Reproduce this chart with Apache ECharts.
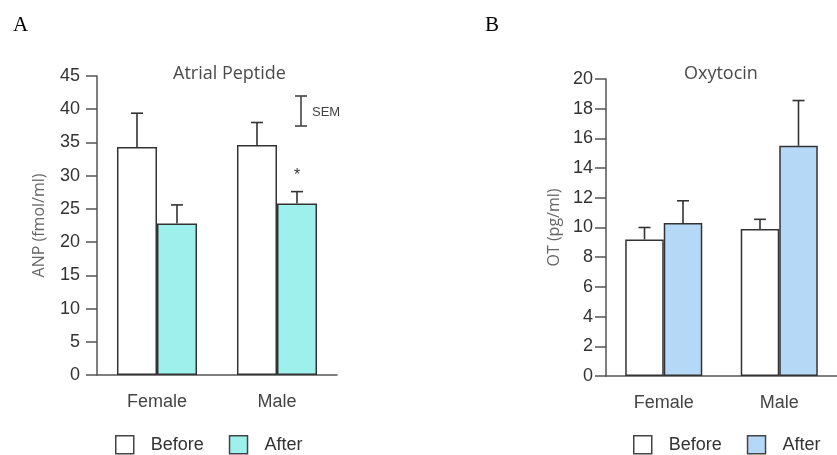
<!DOCTYPE html>
<html>
<head>
<meta charset="utf-8">
<script src="https://cdn.jsdelivr.net/npm/echarts@6/dist/echarts.min.js"></script>
<style>
  html, body { margin: 0; padding: 0; background: #fff; }
  #chart { width: 837px; height: 455px; }
</style>
</head>
<body>
<div id="chart"></div>
<script>
// categories and tick labels
var categories = ['Female', 'Male'];
var anpTicks = [0, 5, 10, 15, 20, 25, 30, 35, 40, 45];
var otTicks = [0, 2, 4, 6, 8, 10, 12, 14, 16, 18, 20];

// A: atrial peptide (fmol/ml), mean and SEM
var anpBefore = [34.3, 34.6];
var anpAfter = [22.8, 25.8];
var anpBeforeSem = [5.1, 3.4];
var anpAfterSem = [2.8, 1.8];

// B: oxytocin (pg/ml), mean and SEM
var otBefore = [9.2, 9.9];
var otAfter = [10.3, 15.5];
var otBeforeSem = [0.8, 0.65];
var otAfterSem = [1.5, 3.05];

var AFTER_A = '#9ef0ec';
var AFTER_B = '#b6d8f7';
var EDGE = '#333';
var AXIS = '#555';
var FONT = 'Liberation Sans';

/**
 * error bar (upper arm only) on top of a bar, side -1 = left bar, 1 = right bar
 */
function errSeries(means, sems, side, axisIdx) {
	var data = means.map(function (m, i) { return [i, m, sems[i]]; });
	return {
		type: 'custom',
		xAxisIndex: axisIdx,
		yAxisIndex: axisIdx,
		z: 5,
		silent: true,
		data: data,
		renderItem: function (params, api) {
			var band = api.size([1, 0])[0];
			var dx = side * band / 6;
			var p0 = api.coord([api.value(0), api.value(1)]);
			var p1 = api.coord([api.value(0), api.value(1) + api.value(2)]);
			var x = p0[0] + dx;
			var st = { stroke: EDGE, lineWidth: 1.6 };
			return {
				type: 'group',
				children: [
					{ type: 'line', shape: { x1: x, y1: p0[1], x2: x, y2: p1[1] }, style: st },
					{ type: 'line', shape: { x1: x - 6, y1: p1[1], x2: x + 6, y2: p1[1] }, style: st }
				]
			};
		}
	};
}

function xAxisConf(gridIdx) {
	return {
		type: 'category',
		gridIndex: gridIdx,
		data: categories,
		axisLine: { lineStyle: { color: AXIS, width: 1.5 } },
		axisTick: { length: 10, lineStyle: { color: AXIS, width: 1.5 } },
		axisLabel: { margin: 18, fontFamily: FONT, fontSize: 18, color: '#444' }
	};
}

function yAxisConf(gridIdx, ticks, name, gap, margin) {
	return {
		type: 'value',
		gridIndex: gridIdx,
		min: ticks[0],
		max: ticks[ticks.length - 1],
		interval: ticks[1] - ticks[0],
		name: name,
		nameLocation: 'middle',
		nameGap: gap,
		nameTextStyle: { fontFamily: 'Open Sans', fontSize: 16, color: '#666' },
		axisLine: { show: true, lineStyle: { color: AXIS, width: 1.5 } },
		axisTick: { show: true, length: 11, lineStyle: { color: AXIS, width: 1.5 } },
		axisLabel: { margin: margin, fontFamily: FONT, fontSize: 18, color: '#333' },
		splitLine: { show: false }
	};
}

function bar(name, data, color, axisIdx) {
	return {
		type: 'bar',
		name: name,
		data: data,
		xAxisIndex: axisIdx,
		yAxisIndex: axisIdx,
		barGap: '0%',
		barCategoryGap: '33.3%',
		itemStyle: { color: color, borderColor: EDGE, borderWidth: 1.5 }
	};
}

// male "after" bar gets the significance star
var anpAfterData = anpAfter.map(function (v, i) {
	if (i === 1) {
		return { value: v, label: { show: true, position: 'top', distance: 20, formatter: '*', fontSize: 16, color: '#333', fontFamily: FONT } };
	}
	return v;
});

var legendBase = {
	orient: 'horizontal',
	top: 430,
	itemWidth: 18,
	itemHeight: 18,
	itemGap: 25,
	icon: 'rect',
	selectedMode: false,
	textStyle: { fontFamily: FONT, fontSize: 18, color: '#333', padding: [0, 0, 0, 12] }
};

var titleFont = { fontFamily: 'Open Sans', fontSize: 18, fontWeight: 'normal', color: '#4a4a4a' };
var letterFont = { fontFamily: 'Liberation Serif', fontSize: 21, fontWeight: 'normal', color: '#000' };

var myChart = echarts.init(document.getElementById('chart'), null, { renderer: 'canvas' });
var options = {
	backgroundColor: '#fff',
	animation: false,
	title: [
		{ text: 'A', left: 8, top: 10, textStyle: letterFont },
		{ text: 'B', left: 480, top: 10, textStyle: letterFont },
		{ text: 'Atrial Peptide', left: 168, top: 60, textStyle: titleFont },
		{ text: 'Oxytocin', left: 679, top: 60, textStyle: titleFont }
	],
	grid: [
		{ left: 97, top: 76, width: 240, height: 299 },
		{ left: 606, top: 79, width: 234, height: 297 }
	],
	legend: [
		Object.assign({}, legendBase, {
			left: 110,
			data: [
				{ name: 'Before', itemStyle: { color: '#fff', borderColor: '#444', borderWidth: 1.5 } },
				{ name: 'After', itemStyle: { color: AFTER_A, borderColor: '#444', borderWidth: 1.5 } }
			]
		}),
		Object.assign({}, legendBase, {
			left: 628,
			data: [
				{ name: 'Before', itemStyle: { color: '#fff', borderColor: '#444', borderWidth: 1.5 } },
				{ name: 'After', itemStyle: { color: AFTER_B, borderColor: '#444', borderWidth: 1.5 } }
			]
		})
	],
	xAxis: [xAxisConf(0), xAxisConf(1)],
	yAxis: [
		yAxisConf(0, anpTicks, 'ANP (fmol/ml)', 50, 17),
		yAxisConf(1, otTicks, 'OT (pg/ml)', 44, 13)
	],
	series: [
		bar('Before', anpBefore, '#fff', 0),
		bar('After', anpAfterData, AFTER_A, 0),
		errSeries(anpBefore, anpBeforeSem, -1, 0),
		errSeries(anpAfter, anpAfterSem, 1, 0),
		bar('Before', otBefore, '#fff', 1),
		bar('After', otAfter, AFTER_B, 1),
		errSeries(otBefore, otBeforeSem, -1, 1),
		errSeries(otAfter, otAfterSem, 1, 1)
	],
	graphic: [
		// SEM scale marker
		{ type: 'line', shape: { x1: 301, y1: 96, x2: 301, y2: 126 }, style: { stroke: '#444', lineWidth: 1.6 } },
		{ type: 'line', shape: { x1: 295, y1: 96, x2: 307, y2: 96 }, style: { stroke: '#444', lineWidth: 1.6 } },
		{ type: 'line', shape: { x1: 295, y1: 126, x2: 307, y2: 126 }, style: { stroke: '#444', lineWidth: 1.6 } },
		{ type: 'text', left: 312, top: 106, style: { text: 'SEM', fontFamily: FONT, fontSize: 13, fill: '#444' } }
	]
};
myChart.setOption(options);
</script>
</body>
</html>
